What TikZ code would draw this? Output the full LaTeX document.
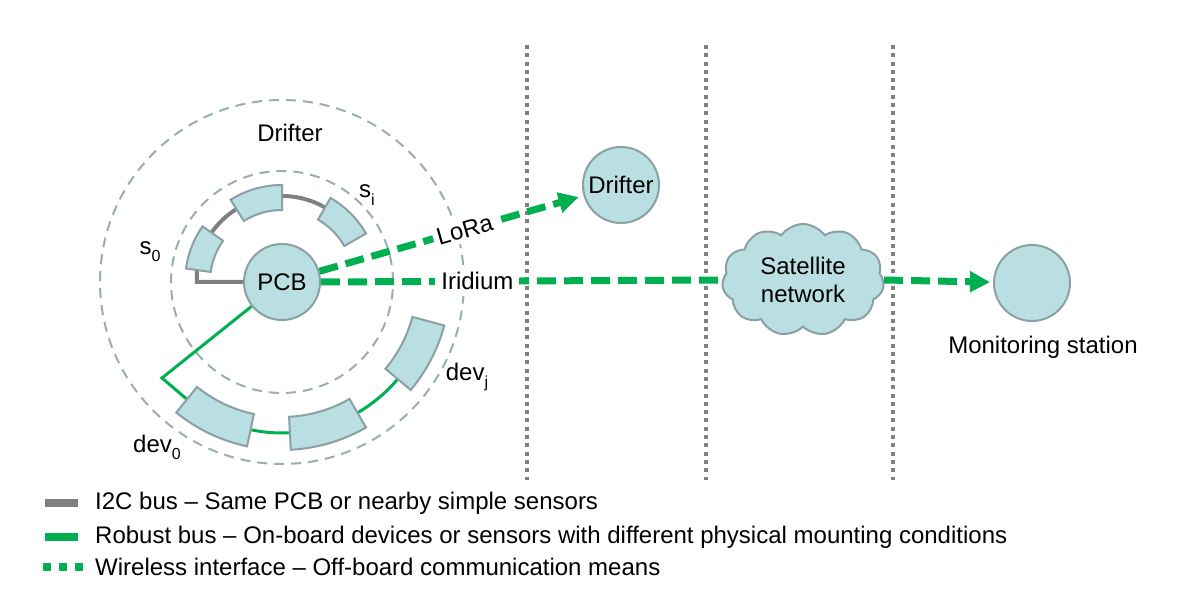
\documentclass[tikz,border=0pt]{standalone}
\usepackage{fontspec}
\setmainfont{Liberation Sans}
\usetikzlibrary{shapes.symbols,arrows.meta}
\definecolor{fillc}{HTML}{B9DFE2}
\definecolor{edgec}{HTML}{8AA0A2}
\definecolor{ringc}{HTML}{9AAEAE}
\definecolor{grn}{HTML}{00B050}
\definecolor{busg}{HTML}{808080}
\definecolor{dotg}{HTML}{808080}
\newcommand\mysub[1]{\raisebox{-0.3em}{\fontsize{16}{16}\selectfont #1}}
\begin{document}
\begin{tikzpicture}[x=1pt,y=1pt,
  lbl/.style={font=\fontsize{24}{28}\selectfont, inner sep=0pt},
  blob/.style={circle, draw=edgec, fill=fillc, line width=2pt, minimum size=76pt, inner sep=0pt, font=\fontsize{24}{28}\selectfont},
  ring/.style={draw=ringc, line width=2pt, dash pattern=on 10pt off 7pt},
  blk/.style={draw=edgec, fill=fillc, line width=2pt},
  i2c/.style={draw=busg, line width=4pt},
  rob/.style={draw=grn, line width=3pt},
  wl/.style={draw=grn, line width=7pt, dash pattern=on 19pt off 8pt},
  wltip/.style={-{Triangle[length=20pt,width=20pt]}},
  sep/.style={draw=dotg, line width=4pt, dash pattern=on 4pt off 4.3pt},
  ]
\useasboundingbox (0,0) rectangle (1184,596);

% separators
\coordinate (s1t) at (527,551); \coordinate (s1b) at (527,116);
\coordinate (s2t) at (706,551); \coordinate (s2b) at (706,116);
\coordinate (s3t) at (893,551); \coordinate (s3b) at (893,116);
\draw[sep] (s1t) -- (s1b);
\draw[sep] (s2t) -- (s2b);
\draw[sep] (s3t) -- (s3b);

% rings
\coordinate (c) at (282,314);
\draw[ring] (c) circle[radius=182];
\draw[ring] (c) circle[radius=111];

% PCB
\node[blob] (pcb) at (c) {PCB};

% I2C bus
\draw[i2c] ([shift={(50:86)}]c) arc[start angle=50, end angle=172, radius=86] |- (pcb.west);

% robust bus
\coordinate (rk) at (162,218);
\draw[rob] (pcb) -- (rk) -- ([shift={(-129:151)}]c) arc[start angle=-129, end angle=-25, radius=151];

% sensor blocks
\foreach \a/\b in {90/122, 30/60, 145/172}{
  \draw[blk] ([shift={(\a:97)}]c) arc[start angle=\a, end angle=\b, radius=97]
    -- ([shift={(\b:72)}]c) arc[start angle=\b, end angle=\a, radius=72] -- cycle;
}
% device blocks
\foreach \a/\b in {-129/-102, -87/-60, -40/-15}{
  \draw[blk] ([shift={(\a:168)}]c) arc[start angle=\a, end angle=\b, radius=168]
    -- ([shift={(\b:135)}]c) arc[start angle=\b, end angle=\a, radius=135] -- cycle;
}

% labels
\node[lbl] (drl) at (290,463) {Drifter};
\node[lbl] (sil) at (367,401) {s\mysub{i}};
\node[lbl] (s0l) at (150,344) {s\mysub{0}};
\node[lbl] (djl) at (467,219) {dev\mysub{j}};
\node[lbl] (d0l) at (157,149) {dev\mysub{0}};

% other nodes
\node[blob] (drift) at (621,411) {Drifter};
\node[cloud, cloud puffs=11, cloud puff arc=110, aspect=1.45, draw=edgec, fill=fillc, line width=2pt,
      minimum width=162pt, minimum height=112pt, inner sep=0pt, align=center,
      font=\fontsize{24}{28}\selectfont] (cloud) at (803,316) {Satellite\\network};
\node[blob] (stat) at (1032,313) {};
\node[lbl] (statl) at (1043,249) {Monitoring station};

% wireless links
\draw[wl,wltip,shorten >=5pt] (pcb) -- node[lbl,fill=white,sloped,inner sep=4pt,pos=0.55]{LoRa} (drift);
\draw[wl] (pcb.east) -- node[lbl,fill=white,inner sep=6pt,pos=0.39]{Iridium} (cloud.west);
\draw[wl,wltip,shorten >=3pt] (cloud.east) -- (stat);

% legend
\coordinate (l1a) at (45,93); \coordinate (l1b) at (78,93);
\coordinate (l2a) at (45,59); \coordinate (l2b) at (78,59);
\coordinate (l3a) at (43,29); \coordinate (l3b) at (83,29);
\draw[busg, line width=8pt] (l1a) -- (l1b);
\draw[grn, line width=8pt] (l2a) -- (l2b);
\draw[grn, line width=8pt, dash pattern=on 8pt off 8pt] (l3a) -- (l3b);
\node[lbl,anchor=west] (t1) at (95,93) {I2C bus – Same PCB or nearby simple sensors};
\node[lbl,anchor=west] (t2) at (95,59) {Robust bus – On-board devices or sensors with different physical mounting conditions};
\node[lbl,anchor=west] (t3) at (95,29) {Wireless interface – Off-board communication means};
\end{tikzpicture}
\end{document}
